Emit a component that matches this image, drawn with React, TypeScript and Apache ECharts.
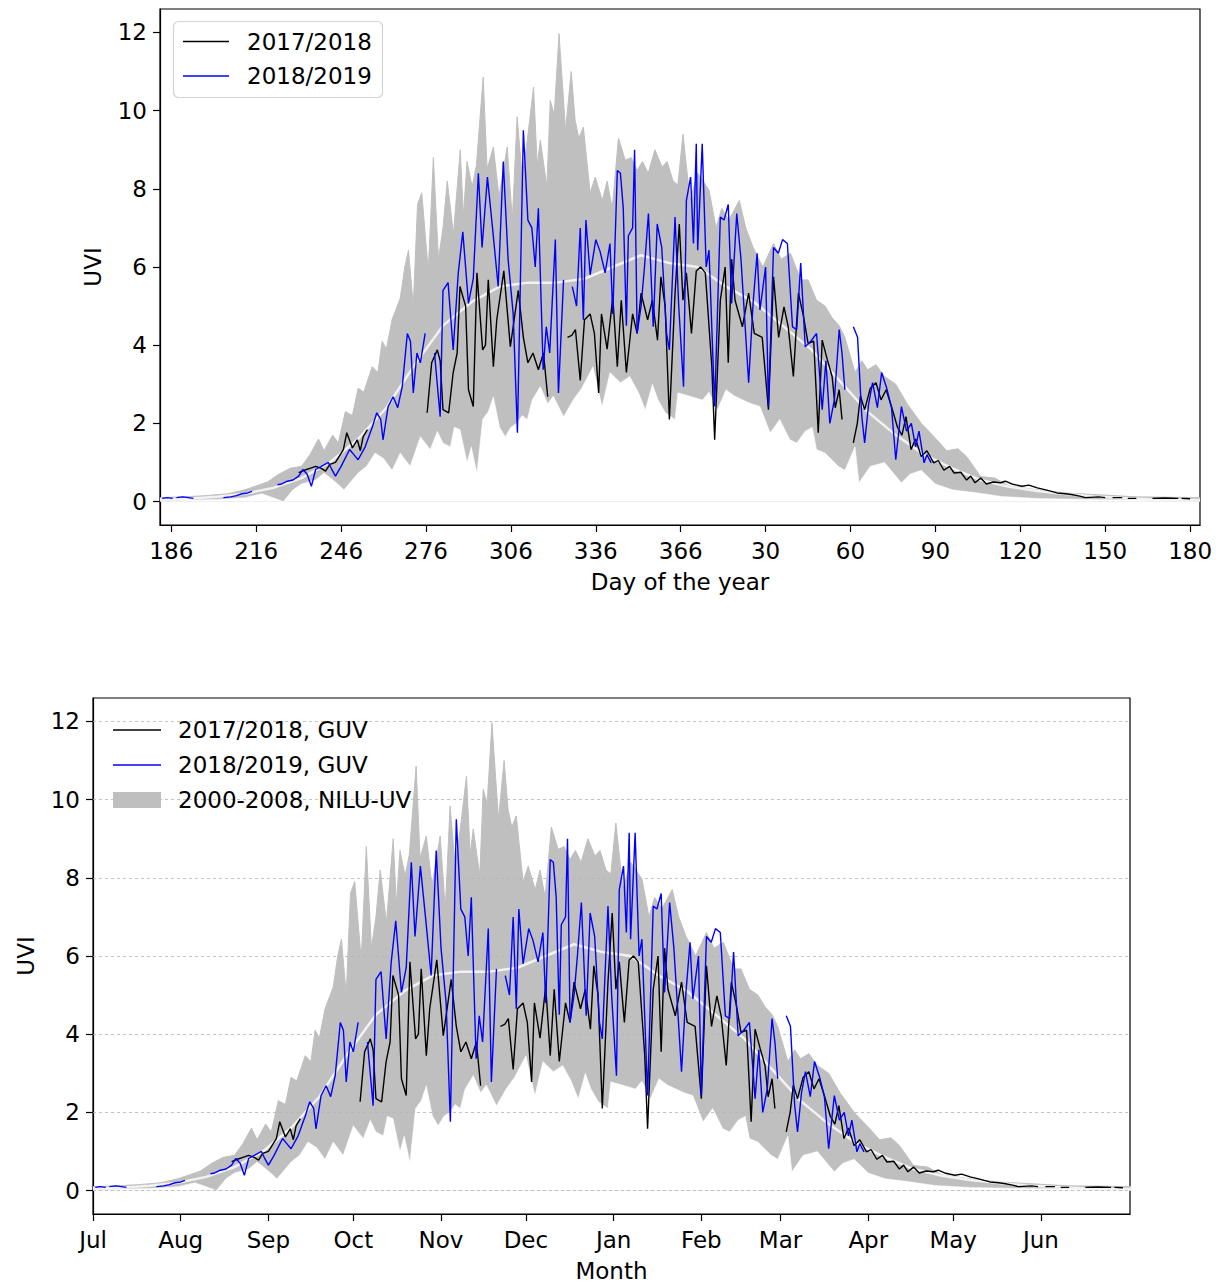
import React, { useEffect, useRef } from 'react';
import * as echarts from 'echarts';

// x = days since 1 July
const bandHighDays = [0, 8, 16, 24, 30, 34, 38, 42, 46, 50, 53, 56, 58, 61, 63, 65.5, 68, 70, 72, 75, 77, 78.5, 80, 82, 84.9, 86.5, 87.8, 89.5, 91, 92.5, 94.8, 96.6, 98.4, 100, 101.5, 103.7, 106.1, 107.2, 108.5, 110.3, 111.8, 114.2, 115.6, 117.8, 119.8, 122.7, 124.5, 126.2, 128, 129.8, 132, 133.3, 134.4, 136.7, 137.9, 139.3, 141, 143.3, 145.3, 146.7, 148, 149.6, 152, 153.8, 156.3, 158, 159.8, 162, 164.4, 166.5, 168.6, 170.5, 172.5, 174.9, 177.4, 179.2, 181.3, 183, 184.8, 187.3, 190, 194, 196.5, 198.5, 201, 204.7, 207, 209.6, 213, 216.8, 219.5, 222.8, 226.4, 229, 232, 235, 237.5, 240, 242, 245.6, 248, 250, 253, 256, 260, 264, 269, 273.5, 278, 282, 285, 290, 295, 300, 310, 320, 330, 345, 367.5];
const bandHighUVI = [0.1, 0.12, 0.15, 0.2, 0.3, 0.4, 0.5, 0.7, 0.85, 0.9, 1.2, 1.6, 1.3, 1.7, 1.5, 2.3, 2.2, 2.9, 2.8, 3.45, 3.3, 4.1, 3.9, 4.65, 5.2, 6.0, 6.43, 5.0, 7.6, 7.9, 5.9, 8.8, 6.2, 7.0, 8.2, 6.85, 9.0, 7.3, 8.7, 8.05, 8.6, 10.86, 8.5, 9.07, 7.8, 9.07, 7.2, 9.84, 8.3, 9.25, 10.6, 8.6, 9.25, 8.05, 10.26, 9.9, 11.97, 9.5, 11.0, 9.75, 9.3, 9.58, 7.9, 8.3, 7.7, 8.2, 7.5, 9.3, 8.73, 8.8, 8.47, 8.7, 8.4, 9.0, 8.56, 8.7, 8.2, 8.1, 9.4, 7.7, 8.4, 7.97, 7.0, 7.5, 7.2, 7.7, 7.0, 6.5, 6.0, 6.6, 6.2, 6.35, 5.67, 5.67, 5.15, 5.0, 4.7, 4.5, 4.2, 3.3, 3.6, 3.37, 3.5, 3.2, 3.0, 2.5, 2.0, 1.66, 1.3, 1.35, 1.15, 0.64, 0.6, 0.4, 0.3, 0.22, 0.18, 0.12, 0.1];

const bandLowDays = [0, 20, 30, 36, 40, 43.6, 47, 50, 55, 58, 62, 65, 70, 73, 76, 79, 82, 84.9, 88.4, 92, 95.5, 98, 100, 102.6, 104, 106, 108.5, 110, 112, 114, 116, 117.8, 120, 122, 124, 126, 128, 129.8, 131.5, 134.4, 137, 139, 142.6, 146, 149, 153, 156.2, 159, 162.7, 166, 169, 171.5, 174, 176, 178.6, 182, 183, 187, 191.7, 194, 197, 200, 203, 206, 209, 212, 215.6, 219, 222.6, 225, 228, 230.5, 232, 235, 239.7, 242, 245.6, 247, 251, 256, 262, 265, 269, 274, 280, 288, 297.5, 310, 330, 367.5];
const bandLowUVI = [0.02, 0.05, 0.1, 0.2, 0.1, 0.0, 0.3, 0.45, 0.55, 0.73, 0.5, 0.3, 0.73, 0.9, 1.24, 1.1, 0.8, 1.24, 0.9, 1.66, 1.33, 1.8, 1.5, 1.4, 1.9, 1.84, 1.0, 1.4, 0.73, 2.1, 2.3, 2.68, 1.9, 1.66, 1.9, 2.0, 2.2, 2.1, 2.6, 2.94, 2.5, 2.7, 2.17, 2.6, 2.9, 3.45, 2.43, 3.3, 3.04, 3.2, 2.8, 2.35, 3.0, 2.6, 2.27, 2.1, 2.78, 2.7, 2.6, 2.8, 2.35, 2.86, 2.7, 2.6, 2.5, 2.43, 1.76, 2.1, 1.58, 1.5, 1.8, 1.9, 1.33, 1.24, 0.9, 0.8, 1.4, 0.48, 0.9, 1.0, 0.48, 0.7, 0.8, 0.45, 0.3, 0.23, 0.13, 0.08, 0.05, 0.03];

const meanDays = [0, 10, 20, 30, 40, 50, 60, 70, 80, 90, 100, 110, 120, 130, 140, 150, 160, 170, 180, 190, 200, 210, 220, 230, 240, 250, 260, 270, 280, 290, 300, 310, 320, 330, 340, 350, 367.5];
const meanUVI = [0.05, 0.07, 0.12, 0.2, 0.35, 0.6, 1.0, 1.6, 2.4, 3.5, 4.5, 5.1, 5.5, 5.6, 5.6, 5.7, 6.0, 6.3, 6.1, 6.0, 5.5, 5.1, 4.5, 3.9, 3.1, 2.3, 1.7, 1.2, 0.85, 0.55, 0.38, 0.27, 0.19, 0.13, 0.09, 0.06, 0.04];

// GUV 2017/2018 (null = no data)
const guv1718Days = [49, 51, 53, 55, 57, 58.5, 60, 62, 64.8, 66, 68, 69.7, 70.8, 71.8, 73.3, 74, 94.4, 96, 98, 99, 100, 102, 103.6, 105, 106, 108, 109, 110.7, 112, 114, 115, 116, 117.8, 119, 121.5, 123.8, 126.6, 128.4, 130, 131.8, 133.7, 135.5, 137, 140, 144, 145.5, 146.8, 148.5, 150, 152, 153.5, 155, 156, 158, 160, 161.6, 163, 164.8, 167, 168.6, 170, 172.3, 174, 175.8, 177, 178.5, 180, 182, 183.5, 184.8, 186, 187.8, 189.5, 191, 192.7, 195, 196, 198, 199.7, 200.8, 202, 203.2, 205.8, 208, 210, 212.8, 215, 216.8, 218.6, 220.5, 222, 223.8, 225.6, 227.4, 229, 231, 232.6, 234, 235.8, 237.5, 238.6, 240, 241, 243, 245, 246.4, 247.5, 249, 251, 253, 254.8, 256.6, 258.6, 260.6, 262.2, 263.6, 265.4, 267, 269, 271, 273.4, 275, 277, 279, 280.6, 283, 285, 286.5, 288, 290, 292, 294.5, 297, 298.7, 301, 304.6, 307, 310, 313, 317, 320, 322, 325, 327, 331.7, 334, 335.5, 336.6, 340, 341, 342, 345, 347, 350.7, 355, 359.8, 360.5, 361, 364];
const guv1718UVI = [0.74, 0.8, 0.85, 0.9, 0.85, 0.78, 0.95, 1.0, 1.33, 1.76, 1.37, 1.58, 1.3, 1.66, 1.84, null, 2.27, 3.55, 3.88, 3.6, 2.35, 2.27, 3.3, 3.8, 5.5, 5.0, 2.86, 2.43, 5.85, 3.88, 4.0, 5.67, 3.45, 4.65, 5.9, 3.96, 5.4, 4.2, 3.55, 3.8, 3.37, 3.8, 2.68, null, 4.2, 4.25, 4.4, 3.1, 4.65, 4.8, 4.3, 2.78, 4.8, 3.9, 5.23, 3.45, 5.15, 3.3, 4.8, 4.3, 5.33, 4.65, 5.15, 4.13, 5.75, 5.0, 2.1, 5.33, 7.1, 5.15, 5.85, 4.3, 5.9, 6.0, 5.85, 3.45, 1.58, 5.15, 6.0, 3.55, 6.2, 5.15, 4.47, 5.33, 4.3, 4.2, 2.35, 5.75, 4.2, 4.98, 4.47, 3.2, 5.33, 4.73, 4.05, 4.1, 1.76, 4.13, 3.63, 3.2, 2.4, 2.86, 2.1, null, 1.5, 2.0, 2.7, 2.35, 2.9, 3.04, 2.6, 2.86, 2.4, 1.9, 1.7, 2.17, 1.33, 1.6, 1.15, 1.3, 0.99, 1.05, 0.8, 0.9, 0.73, 0.75, 0.55, 0.65, 0.48, 0.6, 0.45, 0.5, 0.48, 0.52, 0.45, 0.39, 0.42, 0.35, 0.3, 0.22, 0.2, 0.18, 0.14, 0.1, 0.12, 0.1, null, 0.1, 0.1, null, 0.08, 0.08, null, 0.08, 0.09, 0.08, null, 0.08, 0.07];

// GUV 2018/2019 (null = no data)
const guv1819Days = [0.8, 2.5, 4.5, 5.2, 5.8, 8, 10, 11.8, 13, 22.4, 25, 27, 29, 31, 32.5, 35, 41.5, 43, 45, 47, 49, 50.5, 52, 53.5, 55, 57, 59.5, 60.5, 62, 64, 67, 68.5, 70, 72.5, 74, 75, 76.6, 78, 78.8, 80.6, 82.4, 84, 85.6, 87.4, 88.5, 89.5, 90.8, 92, 93.7, 95, 97, 99, 100, 101.8, 103.6, 105.4, 107, 109, 110.7, 112.5, 113.8, 115.7, 117.5, 119.5, 121.3, 123, 124.8, 126.3, 128.4, 130, 131.4, 132.6, 133.7, 135.4, 136.5, 137.7, 139.7, 140.8, 142.6, 144, 145.7, 147.2, 148.5, 149.6, 150.5, 152, 154, 155.5, 157.3, 159, 160, 161.6, 162.7, 163.7, 164.8, 165.5, 167, 167.7, 168.6, 170, 171.2, 172.6, 174.3, 175.7, 177.3, 179, 180, 182, 183.3, 185, 186, 187.5, 188.5, 189.5, 190, 191.6, 193, 194, 196, 198, 199.3, 200.8, 202, 203.8, 205.3, 208, 209.6, 211, 212, 214, 215, 216.8, 218.5, 220, 221.7, 223.5, 225, 226.4, 228, 230, 232, 234, 235.3, 236.7, 238.3, 240, 241, 242, 243.5, 245, 246.5, 248, 249, 250.4, 251.8, 253.5, 255, 256.8, 258.5, 260, 262, 263.8, 265.5, 267, 268.2, 270, 271, 272.5];
const guv1819UVI = [0.08, 0.1, 0.08, null, 0.1, 0.12, 0.1, 0.08, null, 0.1, 0.12, 0.15, 0.2, 0.22, 0.26, null, 0.43, 0.45, 0.52, 0.55, 0.65, 0.82, 0.7, 0.39, 0.82, 0.9, 1.0, 0.85, 0.65, 0.9, 1.33, 1.2, 1.07, 1.4, 1.7, 1.9, 2.27, 2.1, 1.58, 2.43, 2.68, 2.4, 2.94, 4.3, 4.1, 2.78, 3.8, 3.55, 4.3, null, 3.8, 2.17, 5.4, 5.6, 3.88, 5.85, 6.9, 5.07, 5.7, 8.4, 6.5, 8.3, 7.0, 5.5, 8.7, 6.2, 4.8, 1.76, 9.5, 7.2, 7.0, 6.0, 7.5, 3.37, 4.47, 3.8, 6.7, 2.78, 5.67, null, 5.5, 5.0, 7.0, 4.65, 7.2, 5.8, 6.7, 6.4, 5.85, 6.6, 4.8, 8.47, 8.4, 7.5, 4.5, 6.8, 7.0, 9.0, 4.3, 5.0, 6.0, 7.37, 4.47, 7.1, 6.5, 4.3, 3.88, 7.28, 5.0, 2.94, 7.7, 8.3, 6.6, 9.15, 6.43, 9.15, 6.0, 6.43, 2.43, 7.28, 7.2, 7.6, 5.07, 7.37, 6.2, 3.04, 5.1, 6.35, 4.9, 6.0, 2.43, 6.5, 6.35, 6.7, 6.6, 4.47, 4.4, 6.1, 3.96, 4.1, 4.3, 2.35, 3.6, 2.0, 2.6, 4.4, 3.8, 2.86, null, 4.47, 4.2, 2.17, 1.5, 2.5, 3.04, 2.4, 3.3, 2.9, 2.4, 1.07, 2.43, 1.8, 2.0, 1.4, 1.8, 0.99, 1.2, 0.99];

const yTicks = [0, 2, 4, 6, 8, 10, 12];
const dayTickPos = [4, 34, 64, 94, 124, 154, 184, 214, 244, 274, 304, 334, 364];
const dayTickLabels = ['186', '216', '246', '276', '306', '336', '366', '30', '60', '90', '120', '150', '180'];
const monthTickPos = [0, 31, 62, 92, 123, 153, 184, 215, 243, 274, 304, 335];
const monthLabels = ['Jul', 'Aug', 'Sep', 'Oct', 'Nov', 'Dec', 'Jan', 'Feb', 'Mar', 'Apr', 'May', 'Jun'];

const FONT = 'DejaVu Sans';
const FS = 23;

function zip(xs: number[], ys: (number | null)[]) {
  return xs.map((x, i) => [x, ys[i] === null ? '-' : ys[i]]);
}

function seriesFor(gi: number, names: string[], withGrid: boolean) {
  const list: any[] = [
    {
      name: names[2], type: 'line', xAxisIndex: gi, yAxisIndex: gi, z: 1,
      data: zip(bandHighDays, bandHighUVI), symbol: 'none', silent: true,
      lineStyle: { color: '#bfbfbf', width: 1 },
      itemStyle: { color: '#bfbfbf' },
      areaStyle: { color: '#bfbfbf', opacity: 1, origin: 0 },
    },
    {
      name: 'mask' + gi, type: 'line', xAxisIndex: gi, yAxisIndex: gi, z: 2,
      data: zip(bandLowDays, bandLowUVI), symbol: 'none', silent: true,
      lineStyle: { color: '#ffffff', width: 0.5 },
      areaStyle: { color: '#ffffff', opacity: 1, origin: 0 },
      markLine: withGrid ? {
        silent: true, symbol: 'none', z: 3, animation: false,
        label: { show: false },
        lineStyle: { type: [3, 3], color: '#b5b5b5', width: 0.8 },
        data: yTicks.map((v) => ({ yAxis: v })),
      } : undefined,
    },
    {
      name: 'mean' + gi, type: 'line', xAxisIndex: gi, yAxisIndex: gi, z: 4,
      data: zip(meanDays, meanUVI), symbol: 'none', silent: true,
      lineStyle: { color: '#f2f2f2', width: 2.5 },
    },
    {
      name: names[0], type: 'line', xAxisIndex: gi, yAxisIndex: gi, z: 5,
      data: zip(guv1718Days, guv1718UVI), symbol: 'none', connectNulls: false,
      lineStyle: { color: '#000000', width: 1.4 }, itemStyle: { color: '#000000' },
    },
    {
      name: names[1], type: 'line', xAxisIndex: gi, yAxisIndex: gi, z: 6,
      data: zip(guv1819Days, guv1819UVI), symbol: 'none', connectNulls: false,
      lineStyle: { color: '#0000ff', width: 1.4 }, itemStyle: { color: '#0000ff' },
    },
  ];
  return list;
}

function yAxisFor(gi: number, nameGap: number) {
  return {
    type: 'value', gridIndex: gi, min: -0.6, max: 12.6,
    name: 'UVI', nameLocation: 'middle', nameGap,
    nameTextStyle: { fontFamily: FONT, fontSize: FS, color: '#000' },
    axisLine: { show: true, onZero: false, lineStyle: { color: '#000', width: 1.2 } },
    axisTick: { show: true, customValues: yTicks, length: 7, lineStyle: { color: '#000', width: 1.2 } },
    axisLabel: { customValues: yTicks, fontFamily: FONT, fontSize: FS, color: '#000', margin: 13 },
    splitLine: { show: false },
  };
}

function xAxisFor(gi: number, max: number, name: string, ticks: number[], labels: string[]) {
  return {
    type: 'value', gridIndex: gi, min: 0, max,
    name, nameLocation: 'middle', nameGap: 45,
    nameTextStyle: { fontFamily: FONT, fontSize: FS, color: '#000' },
    axisLine: { show: true, onZero: false, lineStyle: { color: '#000', width: 1.2 } },
    axisTick: { show: true, customValues: ticks, length: 7, lineStyle: { color: '#000', width: 1.2 } },
    axisLabel: {
      customValues: ticks, fontFamily: FONT, fontSize: FS, color: '#000', margin: 14,
      formatter: (v: number) => { const i = ticks.indexOf(Math.round(v)); return i >= 0 ? labels[i] : ''; },
    },
    splitLine: { show: false },
  };
}

export default function App() {
  const ref = useRef<HTMLDivElement>(null);
  useEffect(() => {
    document.body.style.margin = '0';
    const chart = echarts.init(ref.current!, null, { renderer: 'svg' });
    const topNames = ['2017/2018', '2018/2019', 'band0'];
    const botNames = ['2017/2018, GUV', '2018/2019, GUV', '2000-2008, NILU-UV'];
    const option: any = {
      animation: false,
      backgroundColor: '#ffffff',
      grid: [
        { left: 160, top: 9, width: 1040, height: 516, show: true, borderColor: '#000', borderWidth: 1.2, backgroundColor: 'transparent' },
        { left: 93, top: 698, width: 1037, height: 516, show: true, borderColor: '#000', borderWidth: 1.2, backgroundColor: 'transparent' },
      ],
      xAxis: [
        xAxisFor(0, 367.5, 'Day of the year', dayTickPos, dayTickLabels),
        xAxisFor(1, 366.5, 'Month', monthTickPos, monthLabels),
      ],
      yAxis: [yAxisFor(0, 56), yAxisFor(1, 56)],
      series: [...seriesFor(0, topNames, false), ...seriesFor(1, botNames, true)],
      graphic: [
        { type: 'rect', shape: { x: 173.5, y: 21.5, width: 209, height: 76, r: 5 }, style: { fill: 'rgba(255,255,255,0.85)', stroke: '#d4d4d4', lineWidth: 1.2 }, z: 100 },
        { type: 'line', shape: { x1: 183, y1: 41.5, x2: 229, y2: 41.5 }, style: { stroke: '#000', lineWidth: 1.4 }, z: 101 },
        { type: 'line', shape: { x1: 183, y1: 76, x2: 229, y2: 76 }, style: { stroke: '#0000ff', lineWidth: 1.4 }, z: 101 },
        { type: 'text', x: 247, y: 41.5, style: { text: '2017/2018', fontFamily: FONT, fontSize: FS, fill: '#000', verticalAlign: 'middle' }, z: 101 },
        { type: 'text', x: 247, y: 76, style: { text: '2018/2019', fontFamily: FONT, fontSize: FS, fill: '#000', verticalAlign: 'middle' }, z: 101 },

        { type: 'line', shape: { x1: 113, y1: 730, x2: 161, y2: 730 }, style: { stroke: '#000', lineWidth: 1.4 }, z: 101 },
        { type: 'line', shape: { x1: 113, y1: 765, x2: 161, y2: 765 }, style: { stroke: '#0000ff', lineWidth: 1.4 }, z: 101 },
        { type: 'rect', shape: { x: 113, y: 792, width: 48, height: 16 }, style: { fill: '#bfbfbf' }, z: 101 },
        { type: 'text', x: 178, y: 730, style: { text: '2017/2018, GUV', fontFamily: FONT, fontSize: FS, fill: '#000', verticalAlign: 'middle' }, z: 101 },
        { type: 'text', x: 178, y: 765, style: { text: '2018/2019, GUV', fontFamily: FONT, fontSize: FS, fill: '#000', verticalAlign: 'middle' }, z: 101 },
        { type: 'text', x: 178, y: 800, style: { text: '2000-2008, NILU-UV', fontFamily: FONT, fontSize: FS, fill: '#000', verticalAlign: 'middle' }, z: 101 },
      ],
    };
    chart.setOption(option);
    return () => chart.dispose();
  }, []);
  return <div ref={ref} style={{ position: 'absolute', left: 0, top: 0, width: 1220, height: 1284 }} />;
}
